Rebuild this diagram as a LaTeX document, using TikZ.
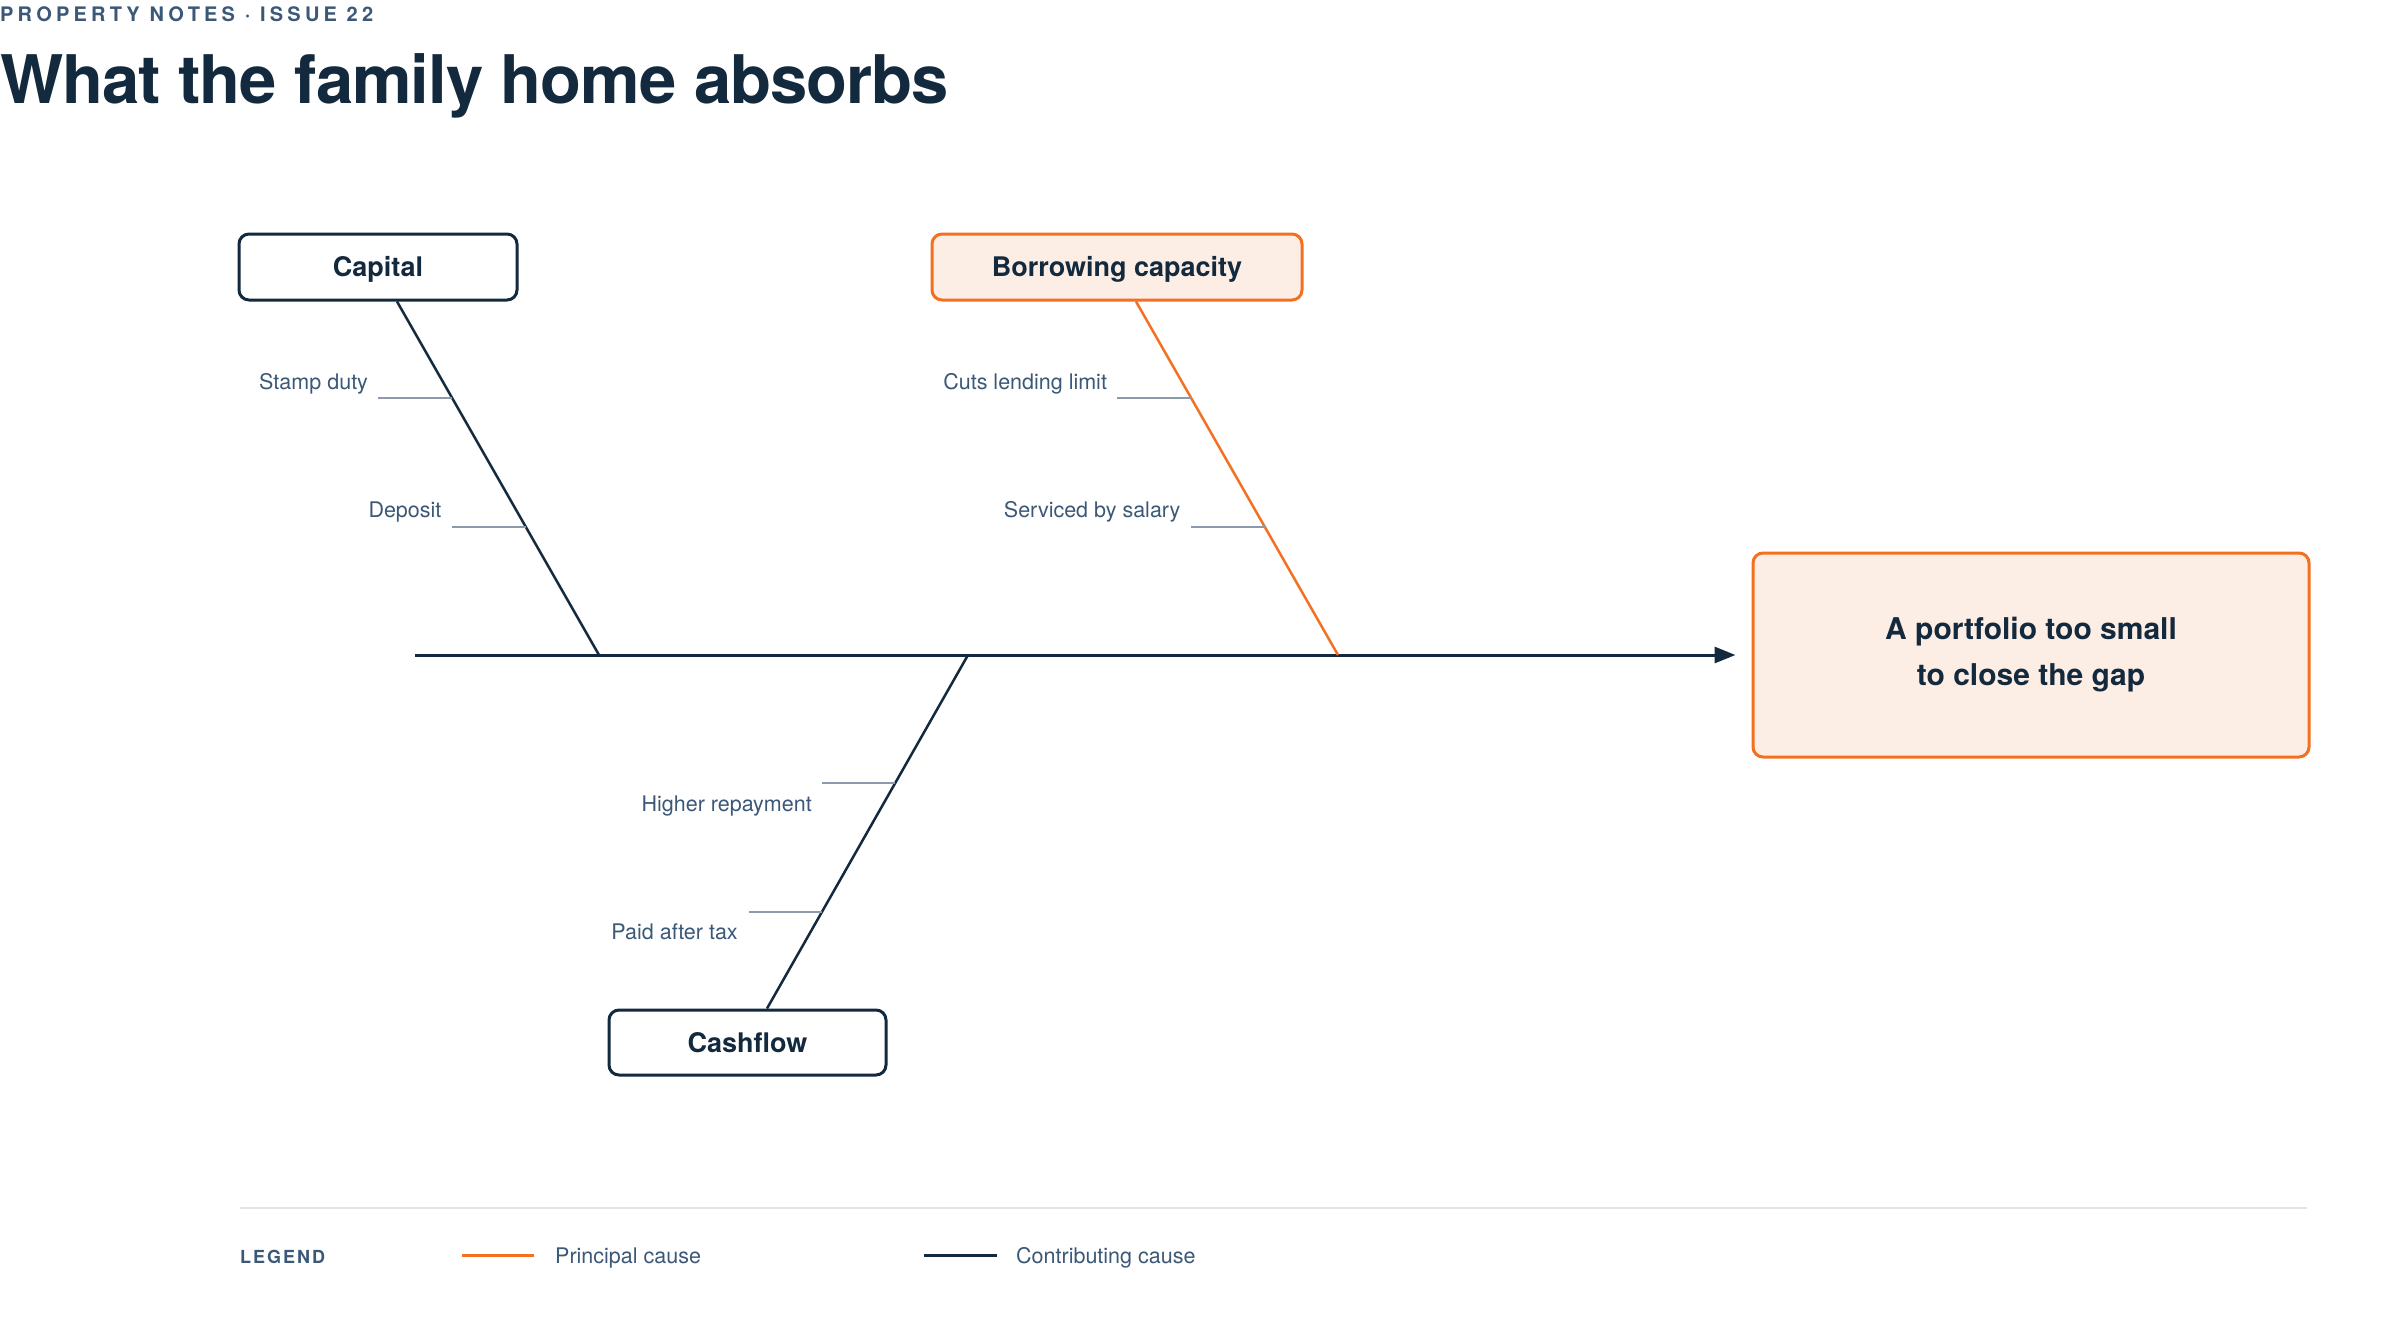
\documentclass[tikz,border=0pt]{standalone}
\usepackage{fontspec}
\setmainfont{TeX Gyre Heros}
\usetikzlibrary{arrows.meta}
\definecolor{navy}{HTML}{13293D}
\definecolor{slate}{HTML}{3B5877}
\definecolor{accent}{HTML}{F37021}
\definecolor{accentfill}{HTML}{FDEEE5}
\definecolor{tickgrey}{HTML}{8D9AAB}
\definecolor{rulegrey}{HTML}{E3E3E3}
\begin{document}
\begin{tikzpicture}[x=1pt,y=-1pt,
  boxbase/.style={draw=navy, line width=3pt, rounded corners=10pt, fill=white,
    inner sep=0pt, text=navy},
  catbox/.style={boxbase, minimum width=278pt, minimum height=66pt,
    font=\fontsize{27}{32}\selectfont\bfseries, text height=19.4pt, text depth=0pt},
  principalbox/.style={catbox, draw=accent, fill=accentfill},
  effectbox/.style={boxbase, draw=accent, fill=accentfill, minimum width=556pt,
    minimum height=204pt, align=center, font=\fontsize{30}{46}\selectfont\bfseries},
  bone/.style={draw=navy, line width=2.5pt},
  principalbone/.style={draw=accent, line width=2.5pt},
  spine/.style={draw=navy, line width=3pt, -{Triangle[length=21pt,width=16pt]}},
  tickline/.style={draw=tickgrey, line width=2pt},
  causelabel/.style={anchor=base east, inner sep=0pt, text=slate,
    font=\fontsize{21.5}{26}\selectfont},
  legendtext/.style={anchor=base west, inner sep=0pt, text=slate,
    font=\fontsize{21.5}{26}\selectfont},
]
\useasboundingbox[fill=white] (0,0) rectangle (2400,1320);

% header
\node[anchor=base west, inner sep=0pt, text=slate,
  font=\fontsize{20}{24}\selectfont\bfseries\addfontfeatures{LetterSpace=21}]
  (kicker) at (0,21.7) {PROPERTY NOTES · ISSUE 22};
\node[anchor=base west, inner sep=0pt, text=navy,
  font=\fontsize{67}{80}\selectfont\bfseries\addfontfeatures{LetterSpace=-1.5}]
  (title) at (0,103) {What the family home absorbs};

% boxes
\node[catbox] (capital) at (378,267) {Capital};
\node[principalbox, minimum width=370pt] (borrow) at (1117,267) {Borrowing capacity};
\node[catbox, minimum width=277pt, minimum height=65pt] (cash) at (747.5,1042.5) {Cashflow};
\node[effectbox] (effect) at (2031,655) {A portfolio too small\\to close the gap};

% spine
\coordinate (tail) at (415,655);
\coordinate (capJoin) at (599,655);
\coordinate (cashJoin) at (968,655);
\coordinate (borrowJoin) at (1338,655);
\draw[spine] (tail) -- ([xshift=-16pt]effect.west);

% bones
\draw[bone] ([xshift=19pt]capital.south) --
  coordinate[pos=0.2732] (cap1) coordinate[pos=0.6366] (cap2) (capJoin);
\draw[principalbone] ([xshift=19pt]borrow.south) --
  coordinate[pos=0.2732] (bor1) coordinate[pos=0.6366] (bor2) (borrowJoin);
\draw[bone] ([xshift=19.5pt]cash.north) --
  coordinate[pos=0.2732] (csh2) coordinate[pos=0.6366] (csh1) (cashJoin);

% sub-causes
\draw[tickline] (cap1) -- ++(-74,0) coordinate (cap1e);
\node[causelabel] (stamp) at ([shift={(-10,-9)}]cap1e) {Stamp duty};
\draw[tickline] (cap2) -- ++(-74,0) coordinate (cap2e);
\node[causelabel] (deposit) at ([shift={(-10,-9)}]cap2e) {Deposit};

\draw[tickline] (bor1) -- ++(-74,0) coordinate (bor1e);
\node[causelabel] (cuts) at ([shift={(-10,-9)}]bor1e) {Cuts lending limit};
\draw[tickline] (bor2) -- ++(-74,0) coordinate (bor2e);
\node[causelabel] (salary) at ([shift={(-10,-9)}]bor2e) {Serviced by salary};

\draw[tickline] (csh1) -- ++(-73,0) coordinate (csh1e);
\node[causelabel] (repay) at ([shift={(-10,28)}]csh1e) {Higher repayment};
\draw[tickline] (csh2) -- ++(-73,0) coordinate (csh2e);
\node[causelabel] (aftertax) at ([shift={(-11,28)}]csh2e) {Paid after tax};

% legend
\coordinate (ruleL) at (240,1208);
\coordinate (ruleR) at (2307,1208);
\draw[draw=rulegrey, line width=2pt] (ruleL) -- (ruleR);
\node[anchor=base west, inner sep=0pt, text=slate,
  font=\fontsize{18}{22}\selectfont\bfseries\addfontfeatures{LetterSpace=11}]
  (legendhead) at (240,1263) {LEGEND};
\coordinate (lgA1) at (462,1255);
\coordinate (lgA2) at (534,1255);
\draw[principalbone, line width=3pt] (lgA1) -- (lgA2);
\node[legendtext] (lgAtext) at (555,1263) {Principal cause};
\coordinate (lgB1) at (924,1255);
\coordinate (lgB2) at (997,1255);
\draw[bone, line width=3pt] (lgB1) -- (lgB2);
\node[legendtext] (lgBtext) at (1016,1263) {Contributing cause};
\end{tikzpicture}
\end{document}
